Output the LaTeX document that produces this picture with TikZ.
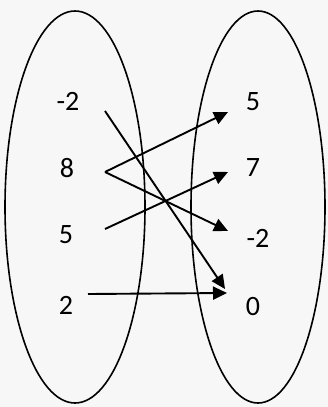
\documentclass[tikz,border=0pt]{standalone}
\usepackage{fontspec}
\setmainfont{Carlito}
\usetikzlibrary{arrows.meta}
\begin{document}
\begin{tikzpicture}[x=1pt,y=-1pt,
  lbl/.style={font=\fontsize{28}{28}\selectfont, inner sep=0pt},
  arr/.style={line width=1.9pt, -{Triangle[length=14pt,width=13pt]}},
  oval/.style={line width=1.6pt}]
\fill[white!94!gray] (0,0) rectangle (328,407);
\useasboundingbox (0,0) rectangle (328,407);
\draw[oval] (75,207) ellipse [x radius=70, y radius=196];
\draw[oval] (258,207) ellipse [x radius=67, y radius=196];
\node[lbl] (a1) at (68,101) {-2};
\node[lbl] (a2) at (67,168) {8};
\node[lbl] (a3) at (66,235) {5};
\node[lbl] (a4) at (66,305) {2};
\node[lbl] (b1) at (253,102) {5};
\node[lbl] (b2) at (253,168) {7};
\node[lbl] (b3) at (258,238) {-2};
\node[lbl] (b4) at (253,307) {0};
\coordinate (s1) at (105,111);
\coordinate (s2) at (105,172);
\coordinate (s3) at (105,229);
\coordinate (s4) at (88,294);
\coordinate (t1) at (228,112);
\coordinate (t2) at (228,172);
\coordinate (t3) at (228,231);
\coordinate (t4) at (227,293);
\coordinate (t4b) at (225,289);
\draw[arr] (s1) -- (t4b);
\draw[arr] (s2) -- (t1);
\draw[arr] (s2) -- (t3);
\draw[arr] (s3) -- (t2);
\draw[arr] (s4) -- (t4);
\end{tikzpicture}
\end{document}
